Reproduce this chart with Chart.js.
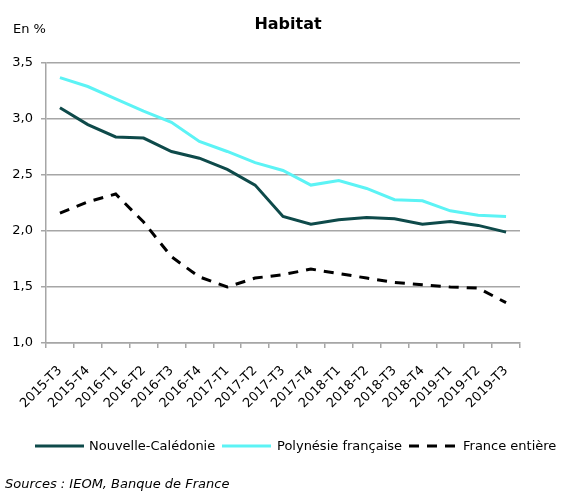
<!DOCTYPE html>
<html>
<head>
<meta charset="utf-8">
<script src="https://cdn.jsdelivr.net/npm/chart.js@4"></script>
<style>
  html, body { margin: 0; padding: 0; background: #fff; }
  #wrap { width: 562px; height: 493px; position: relative; }
</style>
</head>
<body>
<div id="wrap"><canvas id="c" width="562" height="493"></canvas></div>
<script>
const categories = ['2015-T3','2015-T4','2016-T1','2016-T2','2016-T3','2016-T4','2017-T1','2017-T2','2017-T3','2017-T4','2018-T1','2018-T2','2018-T3','2018-T4','2019-T1','2019-T2','2019-T3'];
const nouvelleCaledonie = [3.10, 2.95, 2.84, 2.83, 2.71, 2.65, 2.55, 2.41, 2.13, 2.06, 2.10, 2.12, 2.11, 2.06, 2.085, 2.05, 1.99];
const polynesieFrancaise = [3.37, 3.29, 3.18, 3.07, 2.97, 2.80, 2.71, 2.61, 2.54, 2.41, 2.45, 2.38, 2.28, 2.27, 2.18, 2.14, 2.13];
const franceEntiere = [2.16, 2.26, 2.33, 2.08, 1.77, 1.59, 1.50, 1.58, 1.61, 1.66, 1.62, 1.58, 1.54, 1.52, 1.50, 1.49, 1.36];
const seriesNames = ['Nouvelle-Calédonie', 'Polynésie française', 'France entière'];
const yTickValues = [1.0, 1.5, 2.0, 2.5, 3.0, 3.5];
const titleText = 'Habitat';
const unitText = 'En %';
const sourceText = 'Sources : IEOM, Banque de France';

const FONT = '"DejaVu Sans", Verdana, sans-serif';
const GRID = '#a6a6a6';

const overlay = {
  id: 'overlay',
  afterDraw(chart) {
    const ctx = chart.ctx;
    ctx.save();
    ctx.fillStyle = '#000';
    ctx.textBaseline = 'middle';
    // title
    ctx.font = 'bold 16px ' + FONT;
    ctx.textAlign = 'center';
    ctx.fillText(titleText, 288, 25);
    // unit
    ctx.font = '13px ' + FONT;
    ctx.textAlign = 'left';
    ctx.fillText(unitText, 13, 30);
    // legend
    const lineX = [35, 222, 409];
    const textX = [89, 277, 463];
    const ly = 446;
    chart.data.datasets.forEach((ds, i) => {
      ctx.save();
      ctx.strokeStyle = ds.borderColor;
      ctx.lineWidth = ds.borderWidth;
      ctx.setLineDash(ds.borderDash || []);
      ctx.beginPath();
      ctx.moveTo(lineX[i], ly);
      ctx.lineTo(lineX[i] + 49, ly);
      ctx.stroke();
      ctx.restore();
      ctx.font = '13px ' + FONT;
      ctx.fillStyle = '#000';
      ctx.textAlign = 'left';
      ctx.fillText(ds.label, textX[i], ly + 1);
    });
    // source
    ctx.font = 'italic 13px ' + FONT;
    ctx.textAlign = 'left';
    ctx.fillText(sourceText, 5, 485);
    ctx.restore();
  }
};

new Chart(document.getElementById('c'), {
  type: 'line',
  data: {
    labels: categories,
    datasets: [
      { label: seriesNames[0], data: nouvelleCaledonie, borderColor: '#0e4a4a', backgroundColor: '#0e4a4a', borderWidth: 3, pointRadius: 0, tension: 0 },
      { label: seriesNames[1], data: polynesieFrancaise, borderColor: '#5cf3f5', backgroundColor: '#5cf3f5', borderWidth: 3, pointRadius: 0, tension: 0 },
      { label: seriesNames[2], data: franceEntiere, borderColor: '#000000', backgroundColor: '#000000', borderWidth: 3, borderDash: [10, 8], pointRadius: 0, tension: 0 }
    ]
  },
  options: {
    responsive: false,
    animation: false,
    layout: { padding: { top: 63, left: 0, right: 42, bottom: 50 } },
    plugins: { legend: { display: false }, title: { display: false }, tooltip: { enabled: false } },
    scales: {
      x: {
        type: 'category',
        offset: true,
        grid: { display: true, drawOnChartArea: false, drawTicks: true, tickLength: 5, offset: true, color: GRID, lineWidth: 1.5 },
        border: { display: true, color: GRID, width: 1.5 },
        ticks: { minRotation: 45, maxRotation: 45, autoSkip: false, padding: 15, color: '#000', font: { family: FONT, size: 13 } },
        afterFit(scale) { scale.height = 100; }
      },
      y: {
        min: 1, max: 3.5,
        afterBuildTicks(scale) { scale.ticks = yTickValues.map(v => ({ value: v })); },
        grid: { color: GRID, lineWidth: 1.5, tickLength: 5, drawTicks: true },
        border: { display: true, color: GRID, width: 1.5 },
        ticks: { padding: 8, color: '#000', font: { family: FONT, size: 13 },
          callback: (v) => Number(v).toFixed(1).replace('.', ',') },
        afterFit(scale) { scale.width = 46; }
      }
    }
  },
  plugins: [overlay]
});
</script>
</body>
</html>
